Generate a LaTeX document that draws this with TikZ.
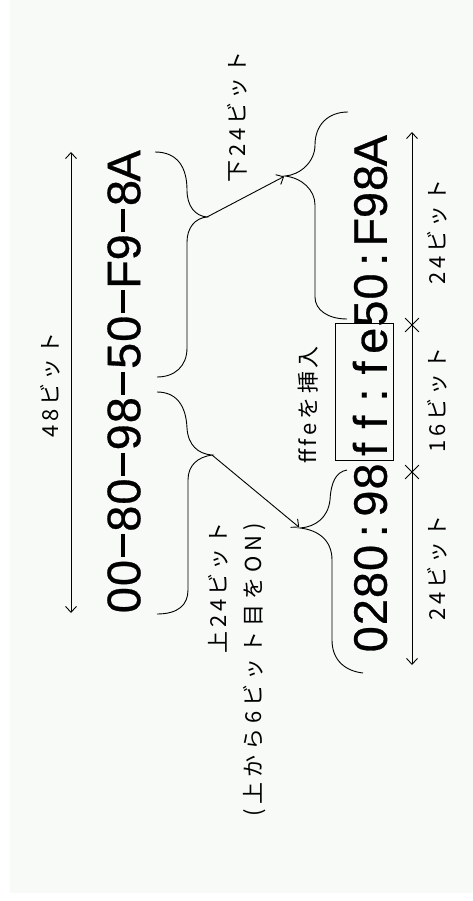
\documentclass[tikz,border=0pt]{standalone}
\usepackage{fontspec}
\usetikzlibrary{arrows.meta,shapes.misc}
\newfontfamily\macfont[FakeBold=0.6]{Liberation Sans}
\newfontfamily\jp[LetterSpace=17]{Noto Sans CJK JP}
\newfontfamily\jpw[LetterSpace=22]{Noto Sans CJK JP}
\definecolor{bgc}{HTML}{F7FAF7}
\newcommand\mch[1]{\makebox[27.14pt][c]{#1}}
\newcommand\dsh{\mch{\rule[15.5pt]{23pt}{3.2pt}}}
\tikzset{
  lbl/.style={rotate=90, inner sep=0pt, font=\jp\fontsize{22}{26}\selectfont},
  mac/.style={rotate=90, inner sep=0pt, font=\macfont\fontsize{47}{50}\selectfont},
  brace/.style={line width=0.9pt},
  dim/.style={line width=0.9pt, {Straight Barb[length=6pt,width=11pt]}-{Straight Barb[length=6pt,width=11pt]}},
  arr/.style={line width=0.9pt, -{Straight Barb[length=6pt,width=11pt]}, shorten >=1pt},
  tick/.style={draw, cross out, line width=0.8pt, minimum size=13pt, inner sep=0pt}
}
\begin{document}
\begin{tikzpicture}[x=1pt,y=-1pt]
\useasboundingbox (0,0) rectangle (473,901);
\fill[white] (0,0) rectangle (473,901);
\fill[bgc] (10,0) rectangle (473,893);

% 48 bit dimension
\coordinate (d48a) at (71,152);
\coordinate (d48b) at (71,613);
\draw[dim] (d48a) -- (d48b);
\node[lbl] (l48) at (50,385) {48ビット};

% original MAC
\node[mac] (mac1) at (124,383) {\mch{0}\mch{0}\dsh\mch{8}\mch{0}\dsh\mch{9}\mch{8}\dsh\mch{5}\mch{0}\dsh\mch{F}\mch{9}\dsh\mch{8}\mch{A}};

% brace A (lower 24 bits)
\coordinate (tA) at (207,217);
\draw[brace] (155,152) .. controls (178,152) and (187,168) .. (187,190) .. controls (187,206) and (195,216) .. (tA)
  .. controls (195,218) and (187,228) .. (187,242) -- (187,348) .. controls (187,366) and (175,377) .. (157,377);
% brace B (upper 24 bits)
\coordinate (tB) at (212,455);
\draw[brace] (157,392) .. controls (176,392) and (186,405) .. (187,428) .. controls (188,445) and (198,454) .. (tB)
  .. controls (198,457) and (188,465) .. (188,480) -- (188,590) .. controls (188,605) and (178,614) .. (157,614);

% brace D (fe50:F98A)
\coordinate (tD) at (285,176);
\draw[brace] (348,112) .. controls (328,112) and (315,125) .. (315,145) .. controls (315,162) and (300,175) .. (tD)
  .. controls (302,178) and (315,190) .. (315,205) -- (315,297) .. controls (315,310) and (328,319) .. (347,319);
% brace C (0280:98)
\coordinate (tC) at (300,528);
\draw[brace] (347,470) .. controls (336,472) and (331,482) .. (330,500) .. controls (328,518) and (315,527) .. (tC)
  .. controls (318,530) and (332,540) .. (332,560) -- (332,640) .. controls (332,660) and (345,671) .. (363,673);

% arrows
\draw[arr] (tA) -- (tD);
\draw[arr] (tB) -- (tC);

\node[lbl] (lge) at (237,117) {下24ビット};
\node[lbl] (lue) at (218,588) {上24ビット};
\node[lbl, font=\jpw\fontsize{22}{26}\selectfont] (lon) at (255,670) {(上から6ビット目をON)};
\node[lbl] (lins) at (308,405) {fffeを挿入};

% EUI-64
\node[mac] (mac2) at (370,395) {\mch{0}\mch{2}\mch{8}\mch{0}\mch{:}\mch{9}\mch{8}\mch{f}\mch{f}\mch{:}\mch{f}\mch{e}\mch{5}\mch{0}\mch{:}\mch{F}\mch{9}\mch{8}\mch{A}};
\node[draw, line width=0.9pt, inner sep=0pt, minimum width=58pt, minimum height=137pt] (box) at (364,391.5) {};

% bottom dimension
\coordinate (da) at (412,132);
\coordinate (db) at (412,665);
\draw[dim] (da) -- (db);
\node[tick] (t1) at (412,325) {};
\node[tick] (t2) at (412,472) {};
\node[lbl] (l24a) at (437,232) {24ビット};
\node[lbl] (l16) at (437,400) {16ビット};
\node[lbl] (l24b) at (437,568) {24ビット};
\end{tikzpicture}
\end{document}
